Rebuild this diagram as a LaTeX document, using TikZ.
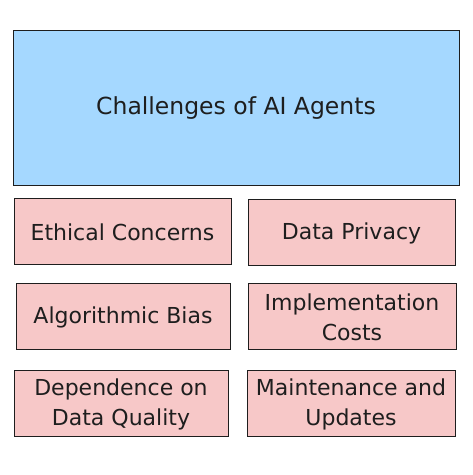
\documentclass[tikz,border=0pt]{standalone}
\usepackage{fontspec}
\setmainfont{DejaVu Sans}
\definecolor{topblue}{HTML}{A5D8FF}
\definecolor{boxpink}{HTML}{F7C8C8}
\definecolor{ink}{HTML}{1E1E1E}
\begin{document}
\begin{tikzpicture}[x=1pt,y=1pt,
  base/.style={draw=ink,line width=1pt,text=ink,inner sep=0pt,align=center,font=\fontsize{22}{30}\selectfont},
  headbox/.style={base,fill=topblue,minimum width=446pt,minimum height=155pt,font=\fontsize{23.5}{28}\selectfont},
  itembox/.style={base,fill=boxpink,minimum height=66pt}]
\useasboundingbox (0,0) rectangle (473,475);
\node[headbox] (head) at (236,366.5) {Challenges of AI Agents};
\node[itembox,minimum width=217pt] (ethic) at (122.5,243) {Ethical Concerns};
\node[itembox,minimum width=207pt] (priv) at (351.5,242) {Data Privacy};
\node[itembox,minimum width=214pt] (bias) at (123,158) {Algorithmic Bias};
\node[itembox,minimum width=208pt] (cost) at (352,158) {Implementation\\Costs};
\node[itembox,minimum width=214pt] (dep) at (121,71) {Dependence on\\Data Quality};
\node[itembox,minimum width=208pt] (maint) at (351,71) {Maintenance and\\Updates};
\end{tikzpicture}
\end{document}
